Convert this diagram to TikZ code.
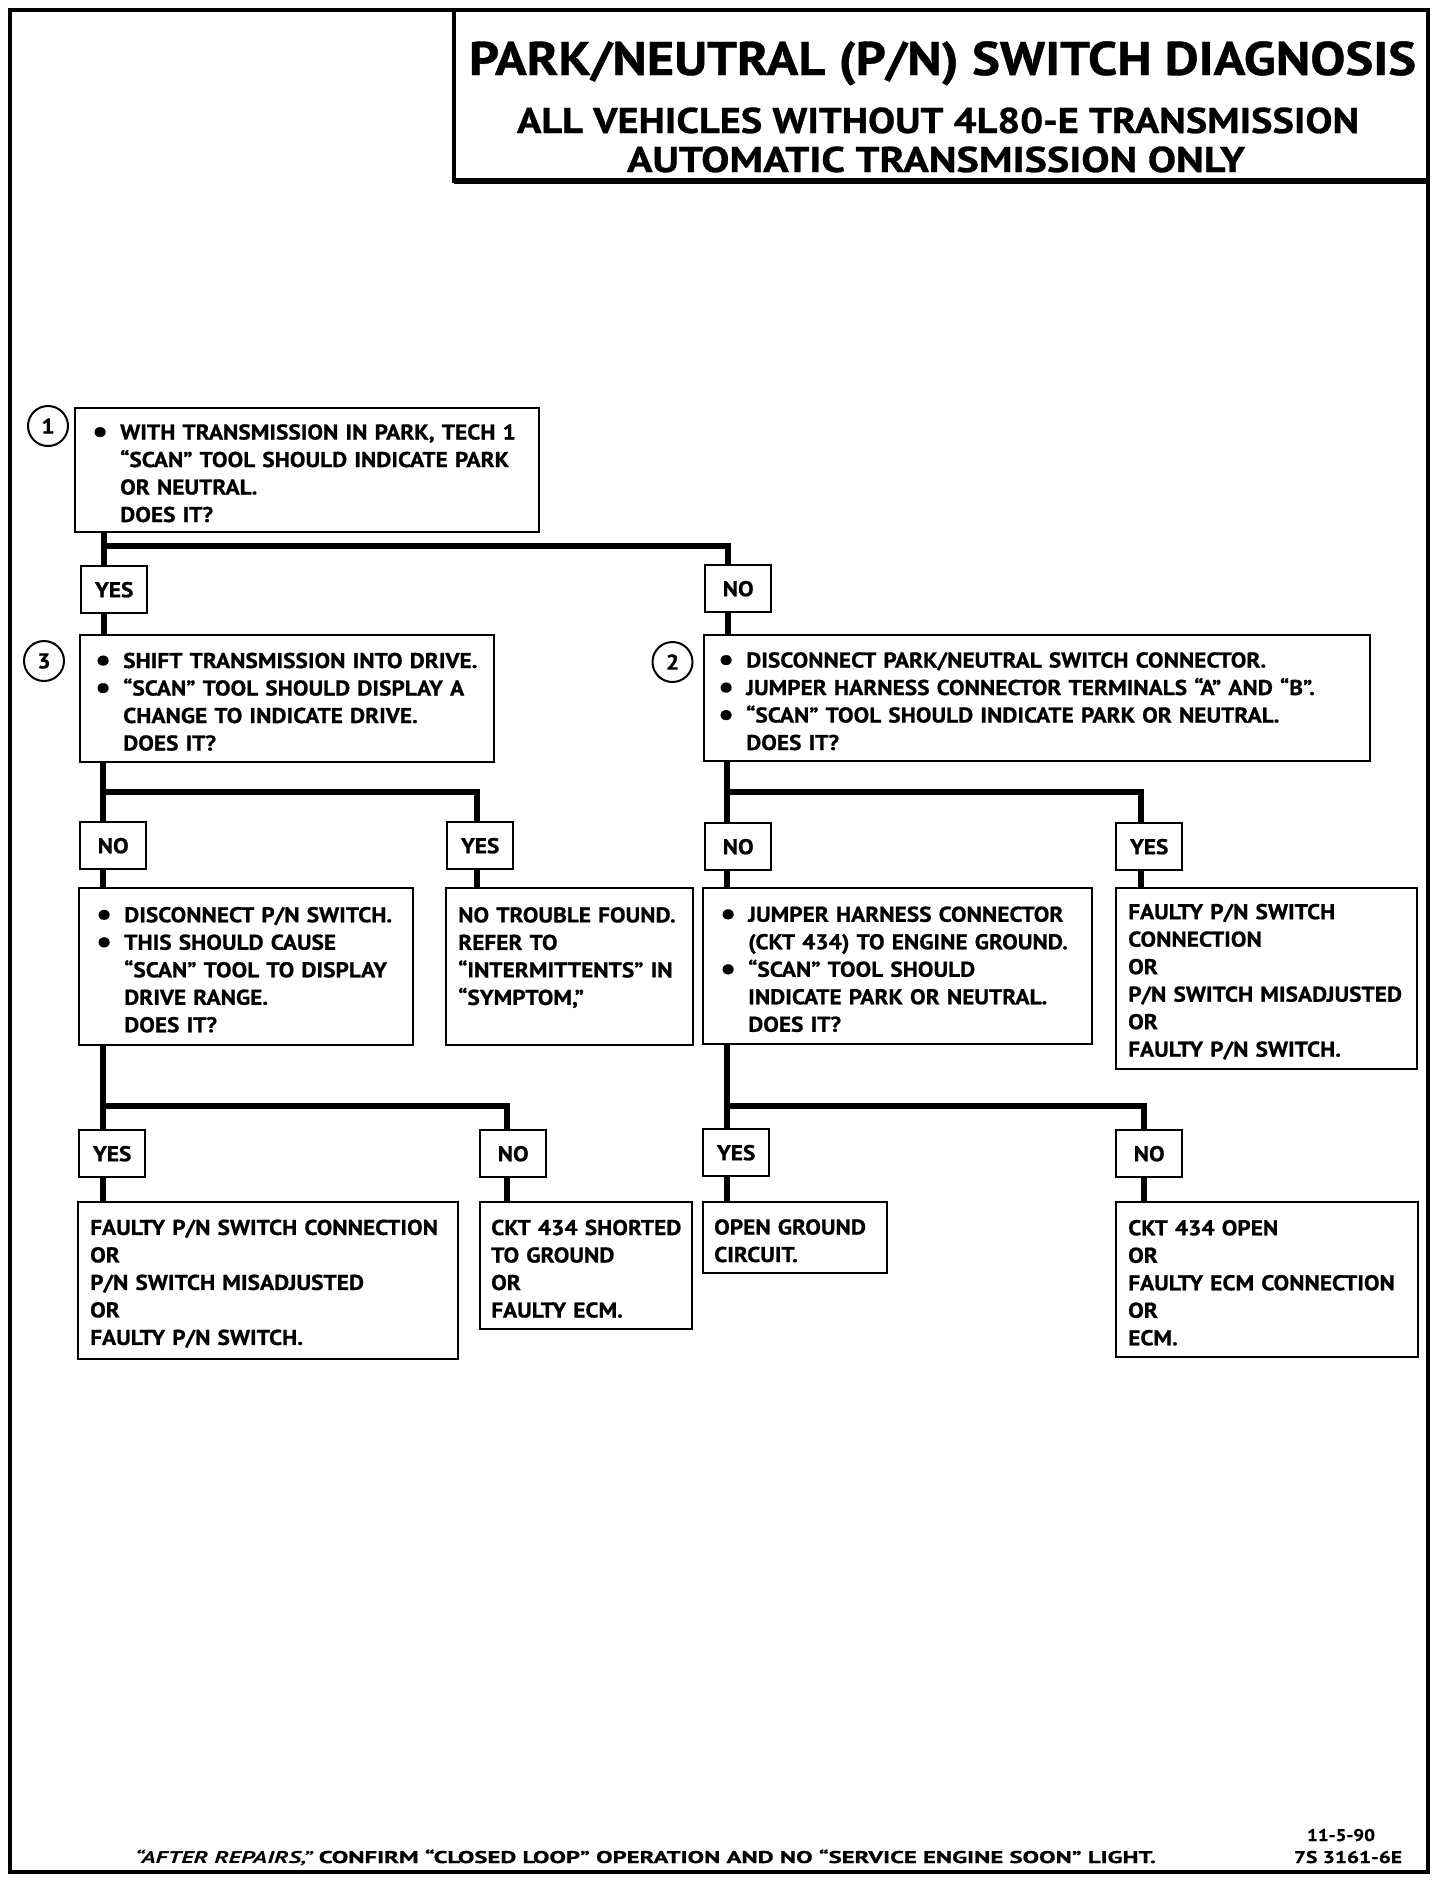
\documentclass[tikz,border=0pt]{standalone}
\usepackage{fontspec}
\setmainfont{PT Sans}[FakeStretch=1.09, BoldFeatures={FakeBold=0.8}]
\usepackage{graphicx}
\newcommand\boxfont{\fontsize{10.7pt}{13.75pt}\selectfont\bfseries}
\newcommand\titlefont{\fontsize{23.6pt}{28pt}\selectfont\bfseries}
\newcommand\subfont{\fontsize{17.9pt}{21pt}\selectfont\bfseries}
\newcommand\footfont{\fontsize{8.5pt}{10pt}\selectfont\bfseries}
\newcommand\bigbul{\raisebox{-1.3pt}{\scalebox{1.5}{\textbullet}}}
\newcommand\bul[1]{\mbox{\makebox[14pt][l]{\bigbul}#1}}
\newcommand\ind[1]{\mbox{\hspace*{14pt}#1}}
\newcommand\pl[1]{\mbox{#1}}
\newcommand\fitw[2]{\resizebox{#1}{\height}{#2}}
\tikzset{
  box/.style={draw, line width=1.2pt, anchor=north west, inner ysep=0pt, align=left, font=\boxfont,
              execute at begin node={\rule{0pt}{10.7pt}}},
  lbl/.style={draw, fill=white, line width=1.2pt, anchor=north west, inner sep=0pt,
              minimum width=33pt, minimum height=23.5pt, font=\boxfont},
  conn/.style={line width=3pt},
  num/.style={draw, circle, line width=1pt, minimum size=20pt, inner sep=0pt, font=\boxfont},
  frame/.style={line width=1.7pt},
  ttl/.style={anchor=base, inner sep=0pt}
}
\begin{document}
\begin{tikzpicture}[x=0.5pt, y=-0.5pt]
\useasboundingbox (0,0) rectangle (1456,1890);
% outer border and title box
\draw[frame] (10,10) rectangle (1428,1872);
\draw[line width=2pt] (454,10) rectangle (1428,181);
\draw[line width=2.8pt] (454,181) -- (1428,181);
\node[ttl, font=\titlefont] (t1) at (942.5,75) {\fitw{473.5pt}{PARK/NEUTRAL (P/N) SWITCH DIAGNOSIS}};
\node[ttl, font=\subfont] (t2) at (938,133) {\fitw{421pt}{ALL VEHICLES WITHOUT 4L80-E TRANSMISSION}};
\node[ttl, font=\subfont] (t3) at (936,172) {\fitw{309pt}{AUTOMATIC TRANSMISSION ONLY}};

% boxes
\node[box, minimum width=232pt, minimum height=62pt, inner xsep=8.5pt, text width=215pt] (b1) at (74,407)
 {\bul{WITH TRANSMISSION IN PARK, TECH 1}\\
  \ind{“SCAN” TOOL SHOULD INDICATE PARK}\\
  \ind{OR NEUTRAL.}\\
  \ind{DOES IT?}};
\node[box, minimum width=207pt, minimum height=63.5pt, inner xsep=7.5pt, text width=192pt] (b3) at (79,634)
 {\bul{SHIFT TRANSMISSION INTO DRIVE.}\\
  \bul{“SCAN” TOOL SHOULD DISPLAY A}\\
  \ind{CHANGE TO INDICATE DRIVE.}\\
  \ind{DOES IT?}};
\node[box, minimum width=333pt, minimum height=63pt, inner xsep=7pt, text width=319pt] (b2) at (703,634)
 {\bul{DISCONNECT PARK/NEUTRAL SWITCH CONNECTOR.}\\
  \bul{JUMPER HARNESS CONNECTOR TERMINALS “A” AND “B”.}\\
  \bul{“SCAN” TOOL SHOULD INDICATE PARK OR NEUTRAL.}\\
  \ind{DOES IT?}};
\node[box, minimum width=167pt, minimum height=78.5pt, inner xsep=8.5pt, text width=150pt] (b4) at (78,887)
 {\bul{DISCONNECT P/N SWITCH.}\\
  \bul{THIS SHOULD CAUSE}\\
  \ind{“SCAN” TOOL TO DISPLAY}\\
  \ind{DRIVE RANGE.}\\
  \ind{DOES IT?}};
\node[box, minimum width=123.5pt, minimum height=78.5pt, inner xsep=6pt, text width=111.5pt] (b5) at (445,887)
 {\pl{NO TROUBLE FOUND.}\\
  \pl{REFER TO}\\
  \pl{“INTERMITTENTS” IN}\\
  \pl{“SYMPTOM,”}\\
  \mbox{}};
\node[box, minimum width=194.5pt, minimum height=78pt, inner xsep=8.5pt, text width=177.5pt] (b6) at (702,887)
 {\bul{JUMPER HARNESS CONNECTOR}\\
  \ind{(CKT 434) TO ENGINE GROUND.}\\
  \bul{“SCAN” TOOL SHOULD}\\
  \ind{INDICATE PARK OR NEUTRAL.}\\
  \ind{DOES IT?}};
\node[box, minimum width=150.5pt, minimum height=90.5pt, inner xsep=6pt, text width=138.5pt] (b7) at (1115,887)
 {\pl{FAULTY P/N SWITCH}\\
  \pl{CONNECTION}\\
  \pl{OR}\\
  \pl{P/N SWITCH MISADJUSTED}\\
  \pl{OR}\\
  \pl{FAULTY P/N SWITCH.}};
\node[box, minimum width=190pt, minimum height=78.5pt, inner xsep=6pt, text width=178pt] (b8) at (77,1201)
 {\pl{FAULTY P/N SWITCH CONNECTION}\\
  \pl{OR}\\
  \pl{P/N SWITCH MISADJUSTED}\\
  \pl{OR}\\
  \pl{FAULTY P/N SWITCH.}};
\node[box, minimum width=106pt, minimum height=63.5pt, inner xsep=5.5pt, text width=95pt] (b9) at (479,1201)
 {\pl{CKT 434 SHORTED}\\
  \pl{TO GROUND}\\
  \pl{OR}\\
  \pl{FAULTY ECM.}};
\node[box, minimum width=92pt, minimum height=35.5pt, inner xsep=5.5pt, text width=81pt] (b10) at (702,1201)
 {\pl{OPEN GROUND}\\
  \pl{CIRCUIT.}};
\node[box, minimum width=151pt, minimum height=77.5pt, inner xsep=6pt, text width=139pt] (b11) at (1115,1201)
 {\pl{CKT 434 OPEN}\\
  \pl{OR}\\
  \pl{FAULTY ECM CONNECTION}\\
  \pl{OR}\\
  \pl{ECM.}};

% circled step numbers
\node[num] (n1) at (48,426) {1};
\node[num] (n3) at (44,661) {3};
\node[num] (n2) at (672.5,662) {2};

% junction points
\coordinate (j1) at (104,546);  \coordinate (j1r) at (728,546);
\coordinate (j2) at (103,792);  \coordinate (j2r) at (477,792);
\coordinate (j3) at (727,792);  \coordinate (j3r) at (1141,792);
\coordinate (j4) at (103,1106); \coordinate (j4r) at (507,1106);
\coordinate (j5) at (727,1106); \coordinate (j5r) at (1144,1106);

% connectors
\draw[conn] (b1.south -| j1) -- (b3.north -| j1);
\draw[conn] (j1) -- (j1r) -- (b2.north -| j1r);
\draw[conn] (b3.south -| j2) -- (b4.north -| j2);
\draw[conn] (j2) -- (j2r) -- (b5.north -| j2r);
\draw[conn] (b2.south -| j3) -- (b6.north -| j3);
\draw[conn] (j3) -- (j3r) -- (b7.north -| j3r);
\draw[conn] (b4.south -| j4) -- (b8.north -| j4);
\draw[conn] (j4) -- (j4r) -- (b9.north -| j4r);
\draw[conn] (b6.south -| j5) -- (b10.north -| j5);
\draw[conn] (j5) -- (j5r) -- (b11.north -| j5r);

% yes / no labels
\node[lbl] (l1) at (80,565) {YES};
\node[lbl] (l2) at (704,564) {NO};
\node[lbl] (l3) at (79,821) {NO};
\node[lbl] (l4) at (446,821) {YES};
\node[lbl] (l5) at (704,822) {NO};
\node[lbl] (l6) at (1115,822) {YES};
\node[lbl] (l7) at (78,1129) {YES};
\node[lbl] (l8) at (479,1129) {NO};
\node[lbl] (l9) at (702,1128) {YES};
\node[lbl] (l10) at (1115,1129) {NO};

% footer
\node[ttl, font=\footfont] (f1) at (645.5,1863)
 {\fitw{510.5pt}{{\itshape “AFTER REPAIRS,”} CONFIRM “CLOSED LOOP” OPERATION AND NO “SERVICE ENGINE SOON” LIGHT.}};
\node[ttl, font=\footfont] (f2) at (1341,1841) {\fitw{34pt}{11-5-90}};
\node[ttl, font=\footfont] (f3) at (1348,1863) {\fitw{54pt}{7S 3161-6E}};
\end{tikzpicture}
\end{document}
